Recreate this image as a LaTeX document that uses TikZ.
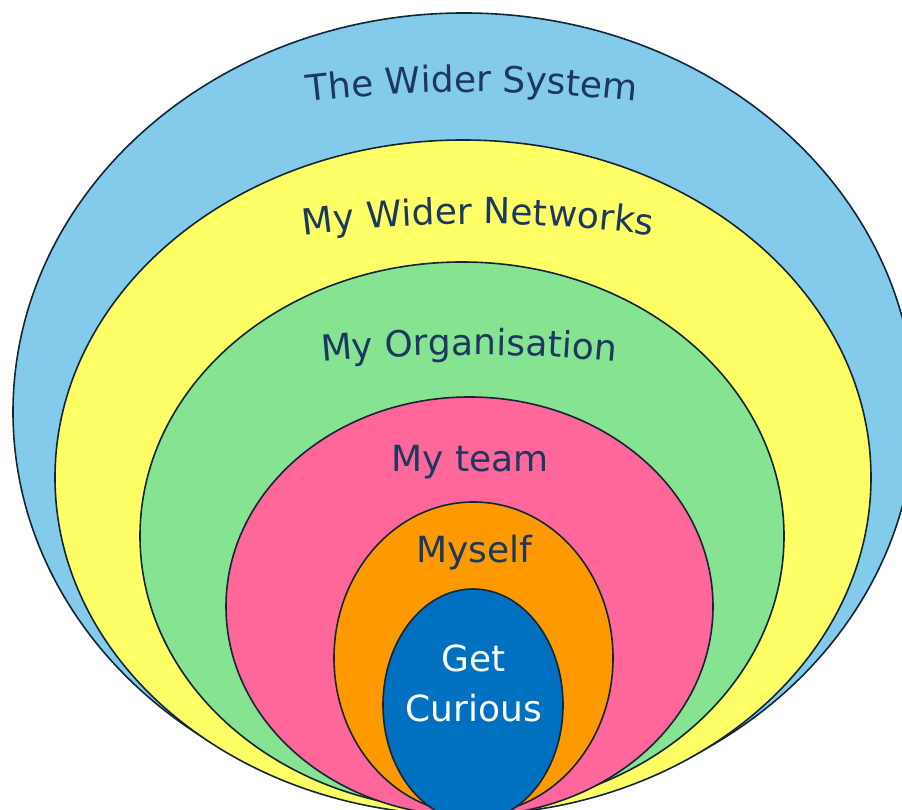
\documentclass[tikz,border=0pt]{standalone}
\usepackage{fontspec}
\newfontfamily\ringfont{DejaVu Sans}
\usetikzlibrary{decorations.text}
\definecolor{sysblue}{RGB}{132,203,235}
\definecolor{netyellow}{RGB}{255,255,102}
\definecolor{orggreen}{RGB}{134,227,146}
\definecolor{teampink}{RGB}{255,102,153}
\definecolor{selforange}{RGB}{255,153,0}
\definecolor{corered}{RGB}{0,112,192}
\definecolor{ringline}{RGB}{20,38,54}
\definecolor{labblue}{RGB}{28,56,96}

\begin{document}
\begin{tikzpicture}[x=1pt, y=1pt,
  ring/.style={draw=ringline, line width=1.6pt},
  lab/.style={font=\ringfont\fontsize{36}{50}\selectfont, text=labblue, inner sep=0pt},
  arclab/.style={decorate, decoration={text along path, text align=center,
    text={|\ringfont\fontsize{36}{40}\selectfont\color{labblue}|#1}}}]
\useasboundingbox (0,0) rectangle (902,810);
% rings, outermost first
\draw[ring, fill=sysblue] (464,398) ellipse [x radius=451pt, y radius=399pt];
\draw[ring, fill=netyellow] (463,332.5) ellipse [x radius=408pt, y radius=337.5pt];
\draw[ring, fill=orggreen] (462,274) ellipse [x radius=322pt, y radius=274pt];
\draw[ring, fill=teampink] (469.5,203.5) ellipse [x radius=243.5pt, y radius=209.5pt];
\draw[ring, fill=selforange] (473.5,152) ellipse [x radius=139.5pt, y radius=156pt];
\draw[ring, fill=corered] (473,105) ellipse [x radius=90pt, y radius=116pt];
% titles of the outer rings, set along flat arcs
\path[arclab={The Wider System}] ([shift={(472,-698)}]102:1416pt)
  arc[start angle=102, end angle=78, radius=1416pt];
\path[arclab={My Wider Networks}] ([shift={(478,-740)}]102:1326pt)
  arc[start angle=102, end angle=78, radius=1326pt];
\path[arclab={My Organisation}] ([shift={(469,-1092)}]100:1547pt)
  arc[start angle=100, end angle=80, radius=1547pt];
% inner titles
\node[lab, anchor=base] (team) at (470,338) {My team};
\node[lab, anchor=base] (myself) at (474,247) {Myself};
\node[lab, text=white, align=center, anchor=base] (curious) at (474,88) {Get\\Curious};
\end{tikzpicture}
\end{document}
